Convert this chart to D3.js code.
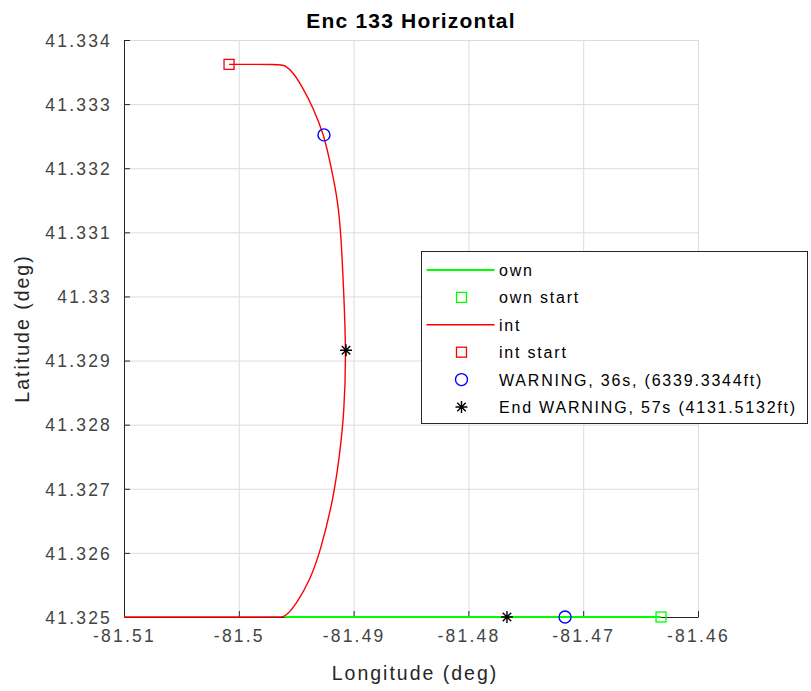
<!DOCTYPE html>
<html>
<head>
<meta charset="utf-8">
<script src="https://cdn.jsdelivr.net/npm/d3@7"></script>
<style>
  body { margin: 0; background: #fff; }
  svg { display: block; font-family: "Liberation Sans", Arial, Helvetica, sans-serif; }
  .tick-label { fill: #444; font-size: 17.5px; letter-spacing: 2.2px; }
  .axis-label { fill: #262626; font-size: 19.5px; letter-spacing: 2px; }
  .legend-text { fill: #000; font-size: 16px; letter-spacing: 1.8px; }
</style>
</head>
<body>
<div id="chart"></div>
<script>
// data
var xTicks = [-81.51, -81.50, -81.49, -81.48, -81.47, -81.46];
var xTickLabels = ["-81.51", "-81.5", "-81.49", "-81.48", "-81.47", "-81.46"];
var yTicks = [41.325, 41.326, 41.327, 41.328, 41.329, 41.330, 41.331, 41.332, 41.333, 41.334];
var yTickLabels = ["41.325", "41.326", "41.327", "41.328", "41.329", "41.33", "41.331", "41.332", "41.333", "41.334"];

// own track (lon, lat)
var ownLon = [-81.46322, -81.49600];
var ownLat = [41.325, 41.325];

// intruder track (lon, lat)
var intLon = [-81.50085, -81.49640, -81.49600, -81.49528, -81.49441, -81.49354, -81.49258, -81.49206, -81.49162,
              -81.49136, -81.49110, -81.49084, -81.49066, -81.49080, -81.49127, -81.49179, -81.49293,
              -81.49380, -81.49493, -81.49580, -81.49615, -81.49660, -81.51000];
var intLat = [41.33362, 41.33362, 41.33361, 41.33350, 41.33325, 41.33295, 41.33252, 41.33210, 41.33172,
              41.33143, 41.33099, 41.32999, 41.32916, 41.32820, 41.32745, 41.32682, 41.32600,
              41.32558, 41.32522, 41.32503, 41.32500, 41.32500, 41.32500];

// event markers: [own, int]
var warnLon = [-81.47158, -81.49258];
var warnLat = [41.325, 41.33252];
var endWarnLon = [-81.47664, -81.49066];
var endWarnLat = [41.325, 41.32916];

var legendLabels = ["own", "own start", "int", "int start", "WARNING, 36s, (6339.3344ft)", "End WARNING, 57s (4131.5132ft)"];

// layout
var W = 811, H = 691;
var pLeft = 124, pRight = 698, pTop = 40, pBottom = 617;

var x = d3.scaleLinear().domain([-81.51, -81.46]).range([pLeft, pRight]);
var y = d3.scaleLinear().domain([41.325, 41.334]).range([pBottom, pTop]);

var svg = d3.select("#chart").append("svg")
  .attr("width", W)
  .attr("height", H);

// grid
svg.append("g")
  .attr("transform", "translate(0," + pBottom + ")")
  .call(d3.axisBottom(x).tickValues(xTicks).tickSize(-(pBottom - pTop)).tickFormat(""))
  .call(function(g) {
    g.select(".domain").remove();
    g.selectAll("line").attr("stroke", "#dcdcdc");
  });

svg.append("g")
  .attr("transform", "translate(" + pLeft + ",0)")
  .call(d3.axisLeft(y).tickValues(yTicks).tickSize(-(pRight - pLeft)).tickFormat(""))
  .call(function(g) {
    g.select(".domain").remove();
    g.selectAll("line").attr("stroke", "#dcdcdc");
  });

// axes
var xAxis = svg.append("g")
  .attr("transform", "translate(0," + pBottom + ")")
  .call(d3.axisBottom(x).tickValues(xTicks)
    .tickFormat(function(d, i) { return xTickLabels[i]; })
    .tickSizeInner(-6).tickSizeOuter(0).tickPadding(12));

xAxis.select(".domain").attr("stroke", "#262626");
xAxis.selectAll(".tick line").attr("stroke", "#262626");
xAxis.selectAll(".tick text")
  .attr("class", "tick-label")
  .attr("dy", null)
  .attr("y", 25)
  .attr("font-size", null)
  .attr("font-family", null);

var yAxis = svg.append("g")
  .attr("transform", "translate(" + pLeft + ",0)")
  .call(d3.axisLeft(y).tickValues(yTicks)
    .tickFormat(function(d, i) { return yTickLabels[i]; })
    .tickSizeInner(-6).tickSizeOuter(0).tickPadding(12));

yAxis.select(".domain").attr("stroke", "#262626");
yAxis.selectAll(".tick line").attr("stroke", "#262626");
yAxis.selectAll(".tick text")
  .attr("class", "tick-label")
  .attr("x", -12)
  .attr("dy", "0.36em")
  .attr("font-size", null)
  .attr("font-family", null);

// labels
svg.append("text")
  .text("Enc 133 Horizontal")
  .attr("x", (pLeft + pRight) / 2)
  .attr("y", 28)
  .attr("text-anchor", "middle")
  .style("font-weight", "bold")
  .style("font-size", "21px")
  .style("letter-spacing", "1.2px")
  .style("fill", "#000");

svg.append("text")
  .text("Longitude (deg)")
  .attr("class", "axis-label")
  .attr("x", (pLeft + pRight) / 2 + 4)
  .attr("y", 680)
  .attr("text-anchor", "middle");

svg.append("text")
  .text("Latitude (deg)")
  .attr("class", "axis-label")
  .attr("text-anchor", "middle")
  .attr("transform", "translate(29," + (pTop + pBottom) / 2 + ") rotate(-90)");

// tracks
var line = d3.line()
  .curve(d3.curveBasis)
  .x(function(d) { return x(d[0]); })
  .y(function(d) { return y(d[1]); });

var ownPts = ownLon.map(function(d, i) { return [d, ownLat[i]]; });
var intPts = intLon.map(function(d, i) { return [d, intLat[i]]; });

svg.append("path")
  .attr("d", line(ownPts))
  .attr("fill", "none")
  .attr("stroke", "#00ff00")
  .attr("stroke-width", 2.2);

svg.append("path")
  .attr("d", line(intPts))
  .attr("fill", "none")
  .attr("stroke", "#ff0000")
  .attr("stroke-width", 1.4);

// marker helpers
function square(g, cx, cy, color) {
  g.append("rect")
    .attr("x", cx - 5).attr("y", cy - 5)
    .attr("width", 10).attr("height", 10)
    .attr("fill", "none").attr("stroke", color).attr("stroke-width", 1.3);
}
function circle(g, cx, cy, color) {
  g.append("circle")
    .attr("cx", cx).attr("cy", cy).attr("r", 6)
    .attr("fill", "none").attr("stroke", color).attr("stroke-width", 1.4);
}
function star(g, cx, cy, color) {
  var r = 6, q = r * 0.7071;
  g.append("path")
    .attr("d", "M" + (cx - r) + "," + cy + "H" + (cx + r) +
               "M" + cx + "," + (cy - r) + "V" + (cy + r) +
               "M" + (cx - q) + "," + (cy - q) + "L" + (cx + q) + "," + (cy + q) +
               "M" + (cx - q) + "," + (cy + q) + "L" + (cx + q) + "," + (cy - q))
    .attr("fill", "none").attr("stroke", color).attr("stroke-width", 1.4);
}

var marks = svg.append("g");
square(marks, x(ownLon[0]), y(ownLat[0]), "#00ff00");
square(marks, x(intLon[0]), y(intLat[0]), "#ff0000");
warnLon.forEach(function(d, i) { circle(marks, x(d), y(warnLat[i]), "#0000ff"); });
endWarnLon.forEach(function(d, i) { star(marks, x(d), y(endWarnLat[i]), "#000"); });

// legend
var lx = 421.5, ly = 251.5, rowH = 27.4;
var legend = svg.append("g");
legend.append("rect")
  .attr("x", lx).attr("y", ly)
  .attr("width", 386).attr("height", 172)
  .attr("fill", "#fff").attr("stroke", "#262626").attr("stroke-width", 1);

legendLabels.forEach(function(label, i) {
  var cy = ly + 18.5 + i * rowH;
  if (i === 0 || i === 2) {
    legend.append("line")
      .attr("x1", lx + 5).attr("x2", lx + 73)
      .attr("y1", cy).attr("y2", cy)
      .attr("stroke", i === 0 ? "#00ff00" : "#ff0000")
      .attr("stroke-width", i === 0 ? 2 : 1.4);
  } else if (i === 1) {
    square(legend, lx + 40, cy, "#00ff00");
  } else if (i === 3) {
    square(legend, lx + 40, cy, "#ff0000");
  } else if (i === 4) {
    circle(legend, lx + 40, cy, "#0000ff");
  } else {
    star(legend, lx + 40, cy, "#000");
  }
  legend.append("text")
    .attr("class", "legend-text")
    .attr("x", lx + 77.5)
    .attr("y", cy + 6)
    .text(label);
});
</script>
</body>
</html>
